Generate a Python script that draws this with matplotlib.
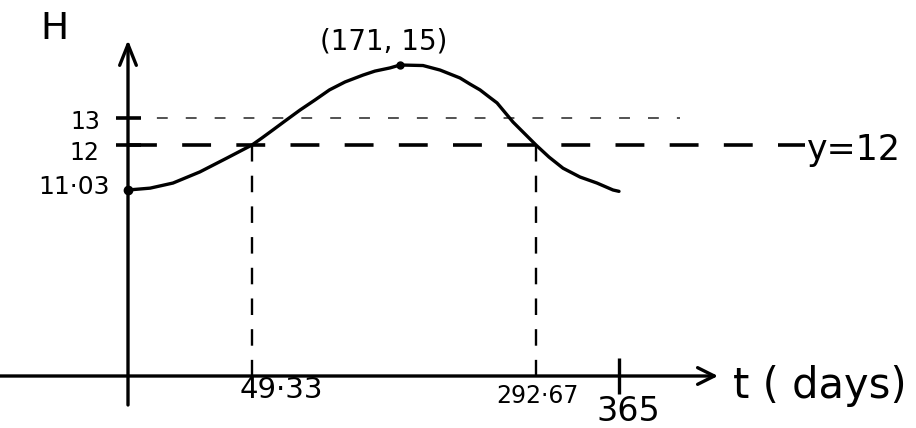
import numpy as np
import matplotlib
matplotlib.use("Agg")
import matplotlib.pyplot as plt

# ---------------- data ----------------
t_days = [0, 8.8, 17.9, 28.6, 39.4, 49.33, 57.5, 66.6, 76.5, 88.8, 101.1, 113.0,
          125.8, 140.6, 150.4, 162.8, 171, 191.6, 206.8, 224.7, 233.6, 242.6,
          250.6, 257.8, 272.1, 292.67, 304.0, 316.2, 331.0, 345.8, 359.8, 365]
height_h = [11.03, 11.07, 11.18, 11.42, 11.72, 12.0, 12.26, 12.56, 12.89, 13.30,
            13.68, 14.06, 14.36, 14.62, 14.77, 14.89, 15.0, 14.98, 14.81, 14.51,
            14.28, 14.06, 13.80, 13.57, 12.85, 12.0, 11.74, 11.50, 11.31, 11.18,
            11.03, 10.95]
peak_t, peak_h = 171, 15
start_t, start_h = 0, 11.03
threshold_h = 12
upper_h = 13
crossings_t = [49.33, 292.67]
x_tick_values = [49.33, 292.67, 365]
x_tick_labels = ["49·33", "292·67", "365"]
y_tick_values = [13, 12, 11.03]
y_tick_labels = ["13", "12", "11·03"]
peak_label = "(171, 15)"
threshold_label = "y=12"
x_label = "t ( days)"
y_label = "H"

# ---------------- hand-drawn (non-uniform) scale of the sketch ----------------
X_ANCHOR = [0, 49.33, 171, 292.67, 365]
X_PIX = [128, 252, 400, 536, 619]
Y_ANCHOR = [0, 11.03, 12, 13, 15]
Y_PIX = [428 - 376, 428 - 190, 428 - 145, 428 - 118, 428 - 65]
W, H = 916, 428


def piecewise(d, p):
    d = np.asarray(d, float)
    p = np.asarray(p, float)
    s0 = (p[1] - p[0]) / (d[1] - d[0])
    s1 = (p[-1] - p[-2]) / (d[-1] - d[-2])

    def fwd(v):
        v = np.asarray(v, float)
        out = np.interp(v, d, p)
        out = np.where(v < d[0], p[0] + (v - d[0]) * s0, out)
        out = np.where(v > d[-1], p[-1] + (v - d[-1]) * s1, out)
        return out

    def inv(q):
        q = np.asarray(q, float)
        out = np.interp(q, p, d)
        out = np.where(q < p[0], d[0] + (q - p[0]) / s0, out)
        out = np.where(q > p[-1], d[-1] + (q - p[-1]) / s1, out)
        return out

    return fwd, inv


fx, ix = piecewise(X_ANCHOR, X_PIX)
fy, iy = piecewise(Y_ANCHOR, Y_PIX)

fig = plt.figure(figsize=(W / 100, H / 100), dpi=100)
ax = fig.add_axes([0, 0, 1, 1])
ax.set_xscale("function", functions=(fx, ix))
ax.set_yscale("function", functions=(fy, iy))
ax.set_xlim(float(ix(0.0)), float(ix(float(W))))
ax.set_ylim(float(iy(0.0)), float(iy(float(H))))
ax.axis("off")

FONT = ["DejaVu Sans"]

# axes with open arrow heads
ax.annotate("", xy=(718 / W, 0), xycoords=("axes fraction", "data"),
            xytext=(0, 0), textcoords=("axes fraction", "data"),
            arrowprops=dict(arrowstyle="->,head_length=1.2,head_width=0.6",
                            lw=2.4, color="black", shrinkA=0, shrinkB=0))
ax.annotate("", xy=(0, 1 - 40 / H), xycoords=("data", "axes fraction"),
            xytext=(0, 1 - 405 / H), textcoords=("data", "axes fraction"),
            arrowprops=dict(arrowstyle="->,head_length=1.5,head_width=0.6",
                            lw=2.4, color="black", shrinkA=0, shrinkB=0))

# reference lines
ax.plot([0, float(ix(680.0))], [upper_h, upper_h], color="#444444", lw=1.3,
        dashes=(6, 10))
ax.plot([0, float(ix(805.0))], [threshold_h, threshold_h], color="black", lw=2.6,
        dashes=(8, 7))
for c in crossings_t:
    ax.plot([c, c], [threshold_h, 0], color="black", lw=1.7, dashes=(7, 6))

# curve
ax.plot(t_days, height_h, color="black", lw=2.4, solid_capstyle="round",
        solid_joinstyle="round")
ax.plot([start_t], [start_h], "o", color="black", ms=6)
ax.plot([peak_t], [peak_h], "o", color="black", ms=5)

# ticks
for v in y_tick_values[:2]:
    ax.plot([0], [v], marker="_", ms=18, mew=2.6, color="black")
ax.plot([x_tick_values[-1]], [0], marker="|", ms=26, mew=2.4, color="black")

# y tick labels
y_offsets = [(-20, -3), (-21, -6), (-13, 2)]
y_sizes = [17, 17, 18]
for v, lab, off, fs in zip(y_tick_values, y_tick_labels, y_offsets, y_sizes):
    ax.annotate(lab, xy=(0, v), xytext=off, textcoords="offset points",
                ha="right", va="center", fontsize=fs, family=FONT)

# x tick labels
x_offsets = [(21, 0), (1, -6), (7, -14)]
x_sizes = [21, 17, 24]
for v, lab, off, fs in zip(x_tick_values, x_tick_labels, x_offsets, x_sizes):
    ax.annotate(lab, xy=(v, 0), xytext=off, textcoords="offset points",
                ha="center", va="top", fontsize=fs, family=FONT)

# annotations
ax.annotate(peak_label, xy=(peak_t, peak_h), xytext=(-11.5, 17),
            textcoords="offset points", ha="center", va="center",
            fontsize=20, family=FONT)
fig.text(807 / W, 1 - 150 / H, threshold_label, ha="left", va="center",
         fontsize=25, family=FONT)
fig.text(733 / W, 1 - 386 / H, x_label, ha="left", va="center",
         fontsize=30, family=FONT)
fig.text(54 / W, 1 - 29 / H, y_label, ha="center", va="center",
         fontsize=27, family=FONT)

fig.savefig("out.png", dpi=100)
